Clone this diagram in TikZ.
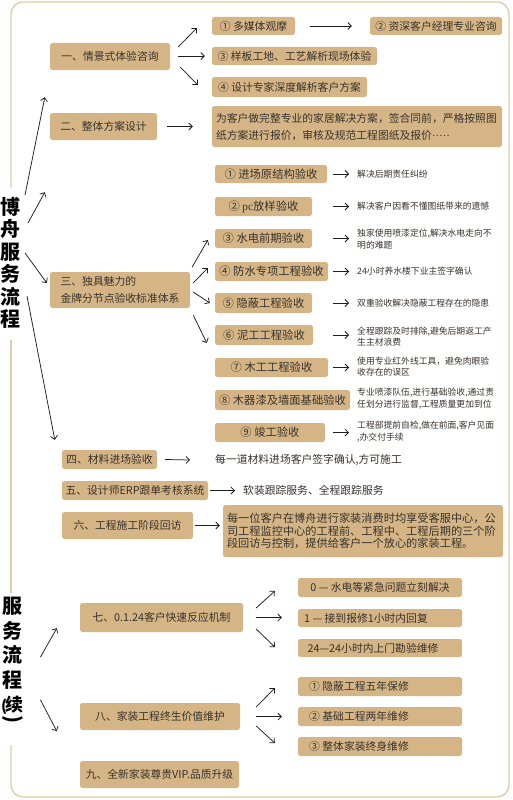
\documentclass[tikz,border=0pt]{standalone}
\usepackage{fontspec}
\usetikzlibrary{arrows.meta,calc}
\newfontfamily\cjk{Noto Sans CJK SC}
\newfontfamily\lserif{Liberation Serif}
\definecolor{boxc}{RGB}{213,181,133}
\definecolor{txtc}{RGB}{55,50,45}
\definecolor{framec}{RGB}{222,204,170}
\definecolor{arrc}{RGB}{30,30,30}
\newcommand\rbox[7]{\node[box,#1,minimum width={#5pt-#3pt},minimum height={#6pt-#4pt}] (#2) at ({(#3+#5)/2},{(#4+#6)/2}) {#7};}
\begin{document}
\begin{tikzpicture}[x=1pt,y=-1pt,
  box/.style={fill=boxc,rounded corners=2.5pt,text=txtc,inner sep=0pt,font=\cjk\fontsize{10.8}{13}\selectfont},
  arr/.style={-{Straight Barb[length=3.5pt,width=7pt]},line width=0.75pt,draw=arrc},
  note/.style={anchor=west,inner sep=0pt,text=txtc,font=\cjk\fontsize{8.8}{11.5}\selectfont,align=left},
  plain/.style={anchor=west,inner sep=0pt,text=txtc,font=\cjk\fontsize{10.8}{13}\selectfont},
  ttl/.style={inner sep=0pt,text=black,font=\cjk\bfseries\fontsize{20}{22.5}\selectfont,align=center},
  frame/.style={draw=framec,line width=1.3pt,rounded corners=12pt}]
\useasboundingbox (0,0) rectangle (513,800);
\fill[white] (0,0) rectangle (513,800);
% frame
\draw[frame] (11,188) -- (11,2) -- (509,2) -- (509,797) -- (11,797) -- (11,745);
\draw[draw=framec,line width=1.3pt] (11,340) -- (11,593);
% titles
\node[ttl,anchor=north] (t1) at (11,197) {博\\舟\\服\\务\\流\\程};
\node[ttl,anchor=north,font=\cjk\bfseries\fontsize{20}{24.5}\selectfont] (t2) at (12.5,597) {服\\务\\流\\程\\{\fontsize{15}{15}\selectfont(}\kern-1.5pt{\fontsize{18}{18}\selectfont 续}};
\node[ttl,anchor=north] (t2p) at (t2.south) {\rotatebox{-90}{)}};
% section 1
\rbox{}{b1}{50}{43}{170}{70}{一、情景式体验咨询}
\rbox{}{s1}{212}{17}{295}{35}{① 多媒体观摩}
\rbox{}{s2}{370}{17}{502}{35}{② 资深客户经理专业咨询}
\rbox{}{s3}{212}{47}{377}{65}{③ 样板工地、工艺解析现场体验}
\rbox{}{s4}{212}{77}{367}{97}{④ 设计专家深度解析客户方案}
\rbox{}{b2}{50}{113}{157}{140}{二、整体方案设计}
\rbox{text width=282pt,align=left,font=\cjk\fontsize{10.8}{17}\selectfont}{d2}{212}{106}{502}{147}{为客户做完整专业的家居解决方案，签合同前，严格按照图\\纸方案进行报价，审核及规范工程图纸及报价{\lserif ·····}}
\draw[arr] ([shift={(8,-9.5)}]b1.east) -- ([shift={(-15,2)}]s1.west);
\draw[arr] ([shift={(8,-0.5)}]b1.east) -- ([shift={(-7,0)}]s3.west);
\draw[arr] ([shift={(10,10.5)}]b1.east) -- ([shift={(-14,-2)}]s4.west);
\draw[arr] ([shift={(15,0)}]s1.east) -- ([shift={(-18,0)}]s2.west);
\draw[arr] ([shift={(10,0)}]b2.east) -- ([shift={(-19,0)}]d2.west);
% section 3
\rbox{align=left,font=\cjk\fontsize{10.8}{17}\selectfont}{b3}{50}{272}{190}{308}{三、独具魅力的\\金牌分节点验收标准体系}
\rbox{font=\cjk\fontsize{11.3}{13}\selectfont}{c1}{215}{165}{327}{183}{① 进场原结构验收}
\rbox{font=\cjk\fontsize{11.3}{13}\selectfont}{c2}{215}{197}{312}{216}{② {\lserif pc}放样验收}
\rbox{font=\cjk\fontsize{11.3}{13}\selectfont}{c3}{215}{229}{312}{248}{③ 水电前期验收}
\rbox{font=\cjk\fontsize{11.3}{13}\selectfont}{c4}{215}{262}{328}{281}{④ 防水专项工程验收}
\rbox{font=\cjk\fontsize{11.3}{13}\selectfont}{c5}{215}{293}{312}{313}{⑤ 隐蔽工程验收}
\rbox{font=\cjk\fontsize{11.3}{13}\selectfont}{c6}{215}{325}{313}{345}{⑥ 泥工工程验收}
\rbox{font=\cjk\fontsize{11.3}{13}\selectfont}{c7}{215}{358}{328}{377}{⑦ 木工工程验收}
\rbox{font=\cjk\fontsize{11.3}{13}\selectfont}{c8}{215}{390}{350}{410}{⑧ 木器漆及墙面基础验收}
\rbox{font=\cjk\fontsize{11.3}{13}\selectfont}{c9}{215}{423}{325}{442}{⑨ 竣工验收}
\node[note] (n1) at (357,174) {解决后期责任纠纷};
\node[note] (n2) at (357,206.5) {解决客户因看不懂图纸带来的遗憾};
\node[note] (n3) at (357,239) {独家使用喷漆定位,解决水电走向不\\明的难题};
\node[note] (n4) at (357,271.5) {24小时养水楼下业主签字确认};
\node[note] (n5) at (357,303) {双重验收解决隐蔽工程存在的隐患};
\node[note] (n6) at (357,336.5) {全程跟踪及时排除,避免后期返工产\\生主材浪费};
\node[note] (n7) at (357,366.5) {使用专业红外线工具，避免肉眼验\\收存在的误区};
\node[note] (n8) at (357,398.5) {专业喷漆队伍,进行基础验收,通过责\\任划分进行监督,工程质量更加到位};
\node[note] (n9) at (357,431.5) {工程部提前自检,做在前面,客户见面\\,办交付手续};
\draw[arr] ([shift={(6,0)}]c1.east) -- ([shift={(-8,0)}]n1.west |- c1.east);
\draw[arr] ([shift={(21,0)}]c2.east) -- ([shift={(-8,0)}]n2.west |- c2.east);
\draw[arr] ([shift={(21,0)}]c3.east) -- ([shift={(-8,0)}]n3.west |- c3.east);
\draw[arr] ([shift={(5,0)}]c4.east) -- ([shift={(-8,0)}]n4.west |- c4.east);
\draw[arr] ([shift={(21,0)}]c5.east) -- ([shift={(-8,0)}]n5.west |- c5.east);
\draw[arr] ([shift={(20,0)}]c6.east) -- ([shift={(-8,0)}]n6.west |- c6.east);
\draw[arr] ([shift={(5,0)}]c7.east) -- ([shift={(-8,0)}]n7.west |- c7.east);
\draw[arr] ([shift={(8,0)}]c9.east) -- ([shift={(-8,0)}]n9.west |- c9.east);
\draw[arr] ([shift={(2,-23)}]b3.east) -- ([shift={(-7,1.5)}]c3.west);
\draw[arr] ([shift={(3,-7)}]b3.east) -- ([shift={(-7,-3.5)}]c4.west);
\draw[arr] ([shift={(3,2)}]b3.east) -- ([shift={(-5,0)}]c5.west);
\draw[arr] ([shift={(3,25)}]b3.east) -- ([shift={(-8,8)}]c6.west);
% sections 4-6
\rbox{}{b4}{62}{450}{157}{469}{四、材料进场验收}
\rbox{}{b5}{62}{481}{208}{500}{五、设计师ERP跟单考核系统}
\rbox{}{b6}{62}{512}{193}{539}{六、工程施工阶段回访}
\node[plain] (n4b) at (215,460) {每一道材料进场客户签字确认,方可施工};
\node[plain] (n5b) at (243,490.5) {软装跟踪服务、全程跟踪服务};
\rbox{text width=272pt,align=left,font=\cjk\fontsize{11.2}{12.8}\selectfont}{d6}{223}{505}{503}{557}{每一位客户在博舟进行家装消费时均享受客服中心，公\\司工程监控中心的工程前、工程中、工程后期的三个阶\\段回访与控制，提供给客户一个放心的家装工程。}
\draw[arr] ([shift={(8,0)}]b4.east) -- ([shift={(-25,0)}]n4b.west);
\draw[arr] ([shift={(2,0)}]b5.east) -- ([shift={(-8,0)}]n5b.west);
\draw[arr] ([shift={(2,0)}]b6.east) -- ([shift={(-3,-5.5)}]d6.west);
% title arrows
\draw[arr] ([shift={(14,-2)}]t1.north) -- ([shift={(-5,27)}]b1.south west);
\draw[arr] ([shift={(17,26)}]t1.north) -- ([shift={(-5,52)}]b2.south west);
\draw[arr] ([shift={(14,56)}]t1.north) -- ([shift={(-3,-7)}]b3.west);
\draw[arr] ([shift={(16,99)}]t1.north) -- ([shift={(-7,-10)}]b4.north west);
% lower section
\rbox{}{b7}{80}{603}{243}{632}{七、0.1.24客户快速反应机制}
\rbox{}{b8}{80}{703}{240}{730}{八、家装工程终生价值维护}
\rbox{}{b9}{80}{761}{239}{788}{九、全新家装尊贵VIP.品质升级}
\rbox{}{r1}{298}{578}{462}{597}{0 — 水电等紧急问题立刻解决}
\rbox{}{r2}{298}{609}{462}{627}{1 — 接到报修1小时内回复\hspace*{28pt}}
\rbox{}{r3}{298}{639}{462}{657}{24—24小时内上门勘验维修\hspace*{14pt}}
\rbox{}{r4}{298}{677}{462}{696}{① 隐蔽工程五年保修\hspace*{42pt}}
\rbox{}{r5}{298}{707}{462}{726}{② 基础工程两年维修\hspace*{42pt}}
\rbox{}{r6}{298}{737}{462}{756}{③ 整体家装终身维修\hspace*{42pt}}
\draw[arr] ([shift={(13,-9.5)}]b7.east) -- ([shift={(-23,3.5)}]r1.west);
\draw[arr] ([shift={(13,0)}]b7.east) -- ([shift={(-16,0)}]r2.west |- b7.east);
\draw[arr] ([shift={(13,11.5)}]b7.east) -- ([shift={(-23,-1)}]r3.west);
\draw[arr] ([shift={(16,-9.5)}]b8.east) -- ([shift={(-23,1.5)}]r4.west);
\draw[arr] ([shift={(16,0)}]b8.east) -- ([shift={(-16,0)}]r5.west |- b8.east);
\draw[arr] ([shift={(16,9.5)}]b8.east) -- ([shift={(-23,-3.5)}]r6.west);
\draw[arr] ([shift={(28,60)}]t2.north) -- ([shift={(-23,-4)}]b7.south west);
\draw[arr] ([shift={(28,103)}]t2.north) -- ([shift={(-23,1)}]b8.south west);
\end{tikzpicture}
\end{document}
